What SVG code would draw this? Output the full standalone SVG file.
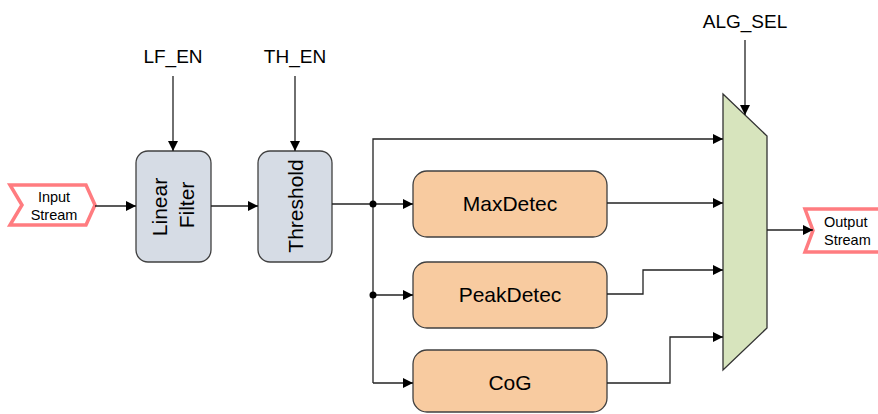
<svg xmlns="http://www.w3.org/2000/svg" width="878" height="414" viewBox="0 0 878 414">
<defs>
<style>
.lbl{font-family:"Liberation Sans","Open Sans",sans-serif;font-size:19px;fill:#000}
.box{font-family:"Liberation Sans","Open Sans",sans-serif;font-size:21px;fill:#000}
.io{font-family:"Liberation Sans","Open Sans",sans-serif;font-size:14.5px;fill:#000}
.blue{fill:#d6dce5;stroke:#404040;stroke-width:1.3}
.peach{fill:#f8cba0;stroke:#404040;stroke-width:1.3}
.stream{fill:#fff;stroke:#ff7c80;stroke-width:3.5;stroke-linejoin:miter}
.w{fill:none;stroke:#222;stroke-width:1.3}
</style>
<marker id="ah" viewBox="0 0 10 10" refX="10" refY="5" markerWidth="10" markerHeight="10" markerUnits="userSpaceOnUse" orient="auto">
<path d="M0,0 L10,5 L0,10 z" fill="#000"/>
</marker>
</defs>
<rect width="878" height="414" fill="#fff"/>

<g id="input-stream">
<polygon class="stream" points="10,185 86,185 95,205 86,225 10,225 22,205"/>
<text class="io" x="54" y="202" text-anchor="middle">Input</text>
<text class="io" x="54" y="220" text-anchor="middle">Stream</text>
</g>

<g id="output-stream">
<polygon class="stream" points="805,209 884,209 884,252 805,252 813,230.5"/>
<text class="io" x="824" y="227">Output</text>
<text class="io" x="824" y="245">Stream</text>
</g>

<g id="lf-en"><text class="lbl" x="173" y="63" text-anchor="middle">LF_EN</text></g>
<g id="th-en"><text class="lbl" x="295" y="63" text-anchor="middle">TH_EN</text></g>
<g id="alg-sel"><text class="lbl" x="745" y="28" text-anchor="middle">ALG_SEL</text></g>

<g id="linear-filter">
<rect class="blue" x="136" y="151" width="75" height="111" rx="12"/>
<text class="box" transform="translate(167,207) rotate(-90)" text-anchor="middle">Linear</text>
<text class="box" transform="translate(194,205) rotate(-90)" text-anchor="middle">Filter</text>
</g>

<g id="threshold">
<rect class="blue" x="258" y="151" width="74" height="111" rx="12"/>
<text class="box" transform="translate(303,206) rotate(-90)" text-anchor="middle">Threshold</text>
</g>

<g id="maxdetec">
<rect class="peach" x="413" y="171" width="194" height="66" rx="14"/>
<text class="box" x="510" y="211" text-anchor="middle">MaxDetec</text>
</g>

<g id="peakdetec">
<rect class="peach" x="413" y="262" width="194" height="66" rx="14"/>
<text class="box" x="510" y="302" text-anchor="middle">PeakDetec</text>
</g>

<g id="cog">
<rect class="peach" x="413" y="350" width="194" height="62" rx="14"/>
<text class="box" x="510" y="390" text-anchor="middle">CoG</text>
</g>

<g id="mux">
<polygon points="723,94 767,136 767,328 723,370" fill="#d7e4bd" stroke="#333" stroke-width="1.3"/>
</g>

<g id="connectors">
<line class="w" x1="95" y1="206" x2="136" y2="206" marker-end="url(#ah)"/>
<line class="w" x1="173" y1="76" x2="173" y2="151" marker-end="url(#ah)"/>
<line class="w" x1="295" y1="76" x2="295" y2="151" marker-end="url(#ah)"/>
<line class="w" x1="211" y1="206" x2="258" y2="206" marker-end="url(#ah)"/>
<line class="w" x1="332" y1="204" x2="373" y2="204"/>
<polyline class="w" points="373,383 373,139 723,139" marker-end="url(#ah)"/>
<line class="w" x1="373" y1="204" x2="413" y2="204" marker-end="url(#ah)"/>
<line class="w" x1="373" y1="295" x2="413" y2="295" marker-end="url(#ah)"/>
<line class="w" x1="373" y1="383" x2="413" y2="383" marker-end="url(#ah)"/>
<circle cx="373" cy="204" r="3.5" fill="#000"/>
<circle cx="373" cy="295" r="3.5" fill="#000"/>
<line class="w" x1="607" y1="203" x2="723" y2="203" marker-end="url(#ah)"/>
<polyline class="w" points="607,294 643,294 643,270 723,270" marker-end="url(#ah)"/>
<polyline class="w" points="607,383 670,383 670,337 723,337" marker-end="url(#ah)"/>
<line class="w" x1="745" y1="40" x2="745" y2="115" marker-end="url(#ah)"/>
<line class="w" x1="767" y1="230" x2="813" y2="230" marker-end="url(#ah)"/>
</g>
</svg>
